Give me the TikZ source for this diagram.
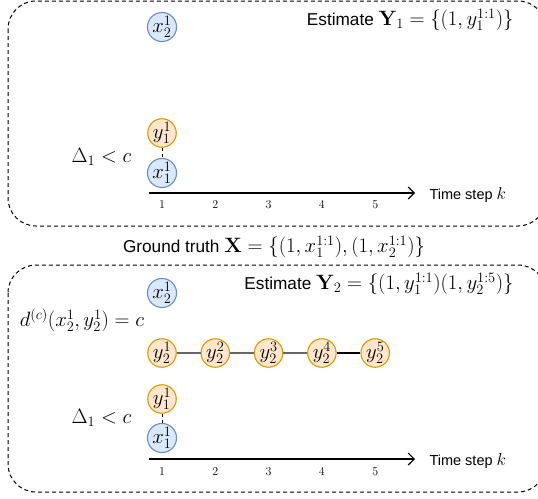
\documentclass[tikz,border=0pt]{standalone}
\usepackage[no-math]{fontspec}
\setsansfont{Liberation Sans}
\usetikzlibrary{arrows.meta}
\definecolor{truthfill}{HTML}{DAE8FC}
\definecolor{truthline}{HTML}{6C8EBF}
\definecolor{estfill}{HTML}{FFE6CC}
\definecolor{estline}{HTML}{D79B00}
\newcommand{\labmath}[1]{{\fontsize{19.4}{23}\selectfont$#1$}}

\begin{document}
\begin{tikzpicture}[x=1pt, y=-1pt, font=\fontsize{17.2}{21}\selectfont,
  truth/.style={circle, draw=truthline, fill=truthfill, line width=1.1pt, minimum size=27pt, inner sep=0pt, font=\fontsize{20.5}{23}\selectfont},
  est/.style={circle, draw=estline, fill=estfill, line width=1.1pt, minimum size=27pt, inner sep=0pt, font=\fontsize{20.5}{23}\selectfont},
  panel/.style={draw, dash pattern=on 4pt off 3pt, line width=1pt, rounded corners=28pt},
  track/.style={gray!80!black, line width=1.2pt},
  axis/.style={line width=1.1pt, -{Straight Barb[length=6pt, width=12pt]}},
  tick/.style={font=\fontsize{12}{14}\selectfont},
  cond/.style={font=\fontsize{19.3}{23}\selectfont},
  axlabel/.style={anchor=west, font=\fontsize{14.5}{18}\selectfont\sffamily}]
  \useasboundingbox (0,0) rectangle (538,498);
  \def\x{162}    % time step 1
  \def\dx{53.3}  % spacing between time steps
  % --- the two dashed panels (cut at the right edge) ---
  \begin{scope}
    \clip (0,0) rectangle (538,498);
    \draw[panel] (8,1) rectangle (546,226);
    \draw[panel] (8,265) rectangle (546,492);
  \end{scope}
  % --- upper panel: estimate Y_1 ---
  \node[anchor=east] (est1) at (517,20) {\sffamily Estimate \labmath{\mathbf{Y}_1=\{(1,y_1^{1:1})\}}};
  \node[truth] (x21a) at (\x,27) {$x_2^1$};
  \node[est] (y11a) at (\x,133) {$y_1^1$};
  \node[truth] (x11a) at (\x,173) {$x_1^1$};
  \draw[dashed] (y11a) -- (x11a);
  \node[cond] (dla) at (101.5,157) {$\Delta_1<c$};
  \coordinate (axa0) at (149,193);
  \coordinate (axa1) at (415,193);
  \draw[axis] (axa0) -- (axa1);
  \node[axlabel] (timea) at (426,195) {Time step {\fontsize{18}{22}\selectfont$k$}};
  \foreach \k in {1,...,5}
    \node[tick] (ta\k) at ({\x+(\k-1)*\dx},205) {$\k$};
  % --- ground truth ---
  \node (gt) at (274,247) {\sffamily Ground truth \labmath{\mathbf{X}=\{(1,x_1^{1:1}),(1,x_2^{1:1})\}}};
  % --- lower panel: estimate Y_2 ---
  \node[anchor=east] (est2) at (517,284) {\sffamily Estimate \labmath{\mathbf{Y}_2=\{(1,y_1^{1:1})(1,y_2^{1:5})\}}};
  \node[truth] (x21b) at (\x,293) {$x_2^1$};
  \node[cond] (dc) at (82,320) {$d^{(c)}(x_2^1,y_2^1)=c$};
  \foreach \k in {1,...,5}
    \node[est] (y2\k) at ({\x+(\k-1)*\dx},353) {$y_2^{\k}$};
  \draw[track] (y21) -- (y22);
  \draw[track] (y22) -- (y23);
  \draw[track] (y23) -- (y24);
  \draw[line width=2pt] (y24) -- (y25);
  \node[est] (y11b) at (\x,399) {$y_1^1$};
  \node[truth] (x11b) at (\x,438) {$x_1^1$};
  \draw[dashed] (y11b) -- (x11b);
  \node[cond] (dlb) at (101.5,418) {$\Delta_1<c$};
  \coordinate (axb0) at (149,459);
  \coordinate (axb1) at (415,459);
  \draw[axis] (axb0) -- (axb1);
  \node[axlabel] (timeb) at (426,461) {Time step {\fontsize{18}{22}\selectfont$k$}};
  \foreach \k in {1,...,5}
    \node[tick] (tb\k) at ({\x+(\k-1)*\dx},471.5) {$\k$};
\end{tikzpicture}
\end{document}
